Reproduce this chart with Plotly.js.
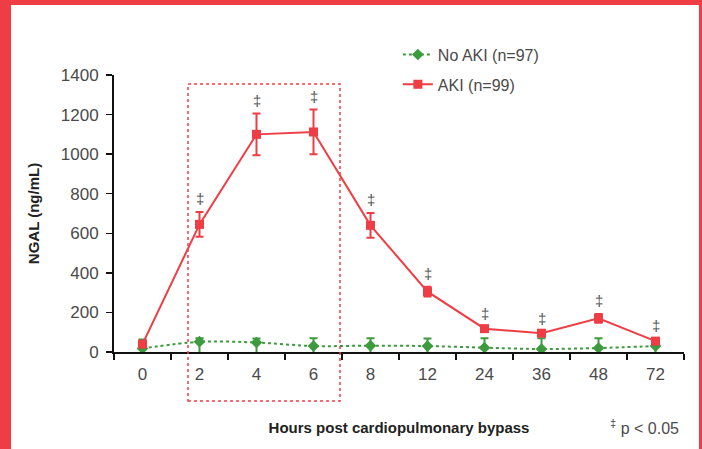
<!DOCTYPE html>
<html><head><meta charset="utf-8">
<script src="https://cdn.plot.ly/plotly-3.0.1.min.js"></script>
<style>
html,body{margin:0;padding:0;background:#fff;}
#frame{position:absolute;left:0;top:0;width:702px;height:449px;box-sizing:border-box;border-left:11px solid #ee3d45;border-top:5px solid #ee3d45;border-right:3px solid #ee3d45;background:#fff;}
#chart{position:absolute;left:0;top:0;width:702px;height:449px;}
</style></head><body>
<div id="frame"></div><div id="chart"></div>
<script>
var hours = ['0','2','4','6','8','12','24','36','48','72'];
var akiMean = [40, 645, 1100, 1112, 640, 305, 118, 95, 170, 55];
var akiErr = [15, 63, 105, 113, 62, 25, 10, 8, 22, 12];
var noAkiMean = [18, 52, 48, 30, 32, 30, 22, 15, 20, 30];
var noAkiErrPlus = [45, 18, 20, 40, 38, 38, 48, 55, 50, 30];
var noAkiErrMinus = [25, 60, 58, 40, 42, 40, 32, 25, 30, 40];
var significant = [false, true, true, true, true, true, true, true, true, true];

var RED = '#ee3d45', GREEN = '#3d9a3d', GRAY = '#4a4a4a';
var FONT = 'Liberation Sans, Arial, sans-serif';

var noAki = {
  x: hours, y: noAkiMean, type: 'scatter', mode: 'lines+markers',
  name: 'No AKI (n=97)', legendrank: 1, legendgroup: 'a',
  line: {color: GREEN, width: 2, dash: 'dot', shape: 'spline', smoothing: 0.8},
  marker: {symbol: 'diamond', size: 9, color: GREEN},
  error_y: {type: 'data', symmetric: false, array: noAkiErrPlus, arrayminus: noAkiErrMinus,
            color: GREEN, thickness: 2, width: 4}
};
var aki = {
  x: hours, y: akiMean, type: 'scatter', mode: 'lines+markers',
  name: 'AKI (n=99)', legendrank: 2, legendgroup: 'b',
  line: {color: RED, width: 2},
  marker: {symbol: 'square', size: 9, color: RED},
  error_y: {type: 'data', array: akiErr, color: RED, thickness: 2, width: 4}
};

var annotations = [];
for (var i = 0; i < hours.length; i++) {
  if (significant[i]) {
    annotations.push({x: i, y: akiMean[i] + akiErr[i], xref: 'x', yref: 'y',
      text: '‡', showarrow: false, yanchor: 'bottom', yshift: 3,
      font: {family: FONT, size: 15, color: '#555'}});
  }
}
annotations.push({xref: 'paper', yref: 'paper', x: 0.995, y: -0.27, xanchor: 'right', yanchor: 'middle',
  text: '<sup>‡</sup> p &lt; 0.05', showarrow: false, font: {family: FONT, size: 16, color: GRAY}});

var layout = {
  width: 702, height: 449,
  margin: {l: 114, r: 18, t: 75, b: 97, pad: 0},
  paper_bgcolor: 'rgba(0,0,0,0)', plot_bgcolor: 'rgba(0,0,0,0)',
  font: {family: FONT, size: 17, color: GRAY},
  showlegend: true,
  legend: {x: 0.498, y: 1.135, xanchor: 'left', yanchor: 'top', traceorder: 'grouped', tracegroupgap: 6,
           font: {family: FONT, size: 16, color: GRAY}, bgcolor: 'rgba(0,0,0,0)'},
  xaxis: {type: 'category', range: [-0.5, 9.5], tickson: 'boundaries', ticks: 'outside', ticklen: 6,
          tickwidth: 1.5, tickcolor: '#111', showline: true, linecolor: '#111', linewidth: 2,
          showgrid: false, zeroline: false, fixedrange: true, ticklabelstandoff: 6,
          tickfont: {family: FONT, size: 17, color: GRAY},
          title: {text: '<b>Hours post cardiopulmonary bypass</b>', standoff: 39,
                  font: {family: FONT, size: 15, color: '#222'}}},
  yaxis: {range: [0, 1400], dtick: 200, tick0: 0, ticks: 'outside', ticklen: 6, tickwidth: 1.5,
          tickcolor: '#111', showline: true, linecolor: '#111', linewidth: 2, showgrid: false,
          zeroline: false, fixedrange: true, ticklabelstandoff: 4,
          tickfont: {family: FONT, size: 17, color: GRAY},
          title: {text: '<b>NGAL (ng/mL)</b>', standoff: 18, font: {family: FONT, size: 15, color: '#222'}}},
  shapes: [{type: 'rect', xref: 'paper', yref: 'paper', x0: 0.1298, x1: 0.3965, y0: -0.177, y1: 0.9675,
            line: {color: RED, width: 1.5, dash: 'dot'}, fillcolor: 'rgba(0,0,0,0)'}],
  annotations: annotations
};

Plotly.newPlot('chart', [noAki, aki], layout, {displayModeBar: false, staticPlot: true});
</script>
</body></html>
